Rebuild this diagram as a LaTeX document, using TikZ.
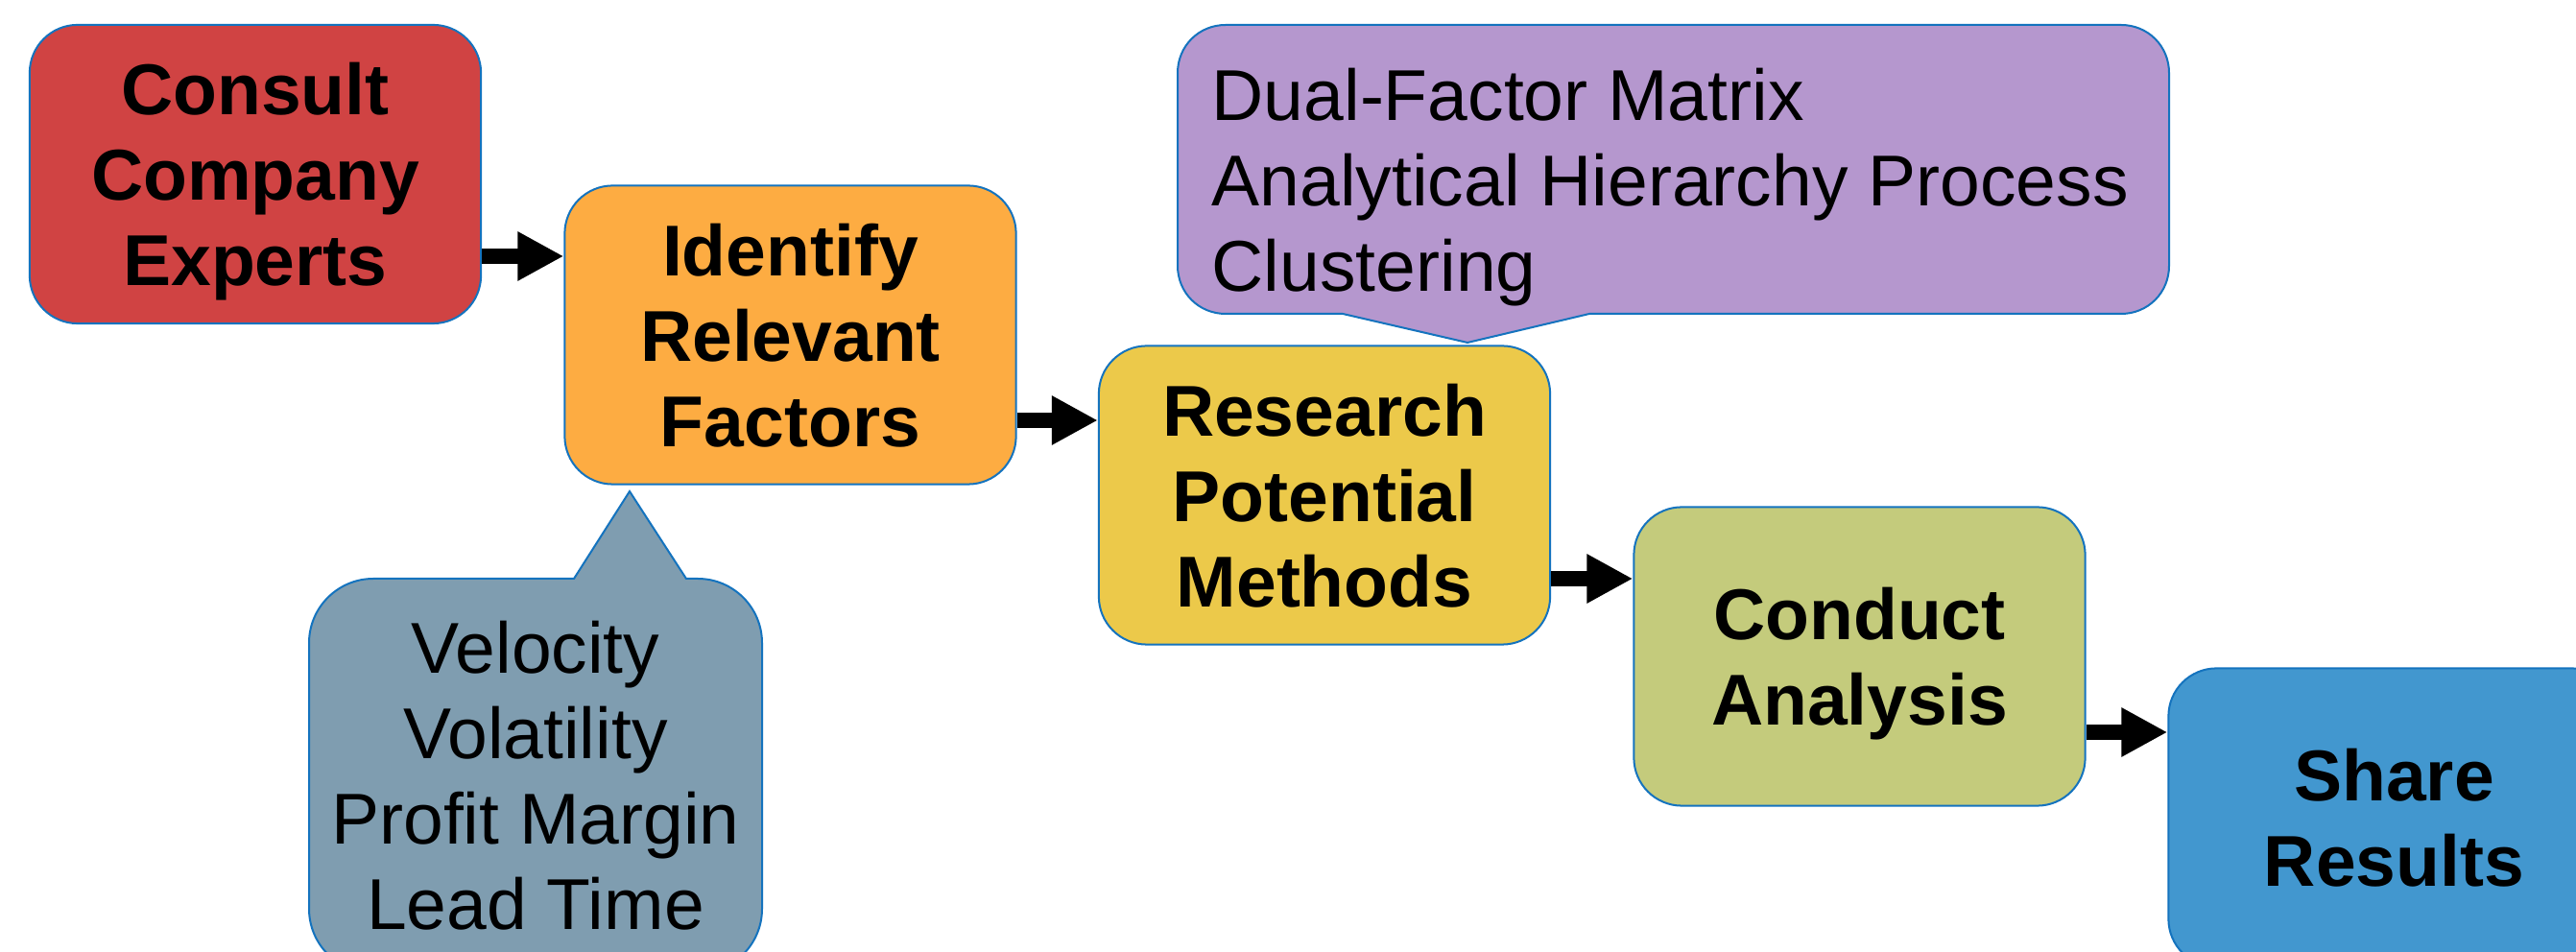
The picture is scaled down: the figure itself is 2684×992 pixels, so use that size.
\documentclass[tikz,border=0pt]{standalone}
\usepackage{fontspec}
\setmainfont{Liberation Sans}
\usetikzlibrary{arrows.meta}
\definecolor{cRed}{RGB}{208,67,67}
\definecolor{cOrange}{RGB}{253,172,66}
\definecolor{cYellow}{RGB}{236,201,74}
\definecolor{cGreen}{RGB}{196,203,124}
\definecolor{cBlue}{RGB}{66,151,207}
\definecolor{cPurple}{RGB}{181,151,206}
\definecolor{cGray}{RGB}{127,157,176}
\definecolor{cEdge}{RGB}{20,115,190}
\begin{document}
\begin{tikzpicture}[x=0.01cm,y=-0.01cm,
  stepbox/.style={draw=cEdge, line width=0.02cm, rounded corners=0.5cm,
    minimum width=4.7cm, minimum height=3.11cm, inner sep=0pt, align=center,
    text depth=0pt,
    font=\fontsize{21.34}{25.32}\selectfont\bfseries},
  calltext/.style={inner sep=0pt, font=\fontsize{21.34}{25.32}\selectfont},
  callshape/.style={draw=cEdge, line width=0.02cm, line join=miter},
  blockarrow/.style={line width=0.16cm, -{Triangle[length=0.48cm,width=0.48cm]}}]
\useasboundingbox (0,0) rectangle (2684,992);

% callouts (shapes drawn directly)
\path[callshape, fill=cPurple] (1277,26) -- (2210,26) .. controls (2238,26) and (2260,48) .. (2260,76)
  -- (2260,277) .. controls (2260,305) and (2238,327) .. (2210,327)
  -- (1656,327) -- (1529,357) -- (1399,327)
  -- (1277,327) .. controls (1249,327) and (1227,305) .. (1227,277)
  -- (1227,76) .. controls (1227,48) and (1249,26) .. (1277,26) -- cycle;
\path[callshape, fill=cGray] (715,603) -- (727,603) .. controls (764,603) and (794,633) .. (794,670)
  -- (794,947) .. controls (794,984) and (764,1014) .. (727,1014)
  -- (389,1014) .. controls (352,1014) and (322,984) .. (322,947)
  -- (322,670) .. controls (322,633) and (352,603) .. (389,603)
  -- (598,603) -- (656,512) -- cycle;

\node[calltext, anchor=north west, align=left] (methods) at (1262,70)
  {Dual-Factor Matrix\\Analytical Hierarchy Process\\Clustering};
\node[calltext, anchor=north, align=center] (factors) at (558,646)
  {Velocity\\Volatility\\Profit Margin\\Lead Time};

% process steps
\node[stepbox, fill=cRed]    (consult)  at (266,181.5) {Consult\\Company\\Experts};
\node[stepbox, fill=cOrange] (identify) at (823.5,349) {Identify\\Relevant\\Factors};
\node[stepbox, fill=cYellow] (research) at (1380,516)  {Research\\Potential\\Methods};
\node[stepbox, fill=cGreen]  (conduct)  at (1937.5,684) {Conduct\\Analysis};
\node[stepbox, fill=cBlue]   (share)    at (2494.5,852) {Share\\Results};

% connectors
\draw[blockarrow] (consult.east |- 0,267) -- (identify.west |- 0,267);
\draw[blockarrow] (identify.east |- 0,438) -- (research.west |- 0,438);
\draw[blockarrow] (research.east |- 0,603) -- (conduct.west |- 0,603);
\draw[blockarrow] (conduct.east |- 0,763) -- (share.west |- 0,763);
\end{tikzpicture}
\end{document}
